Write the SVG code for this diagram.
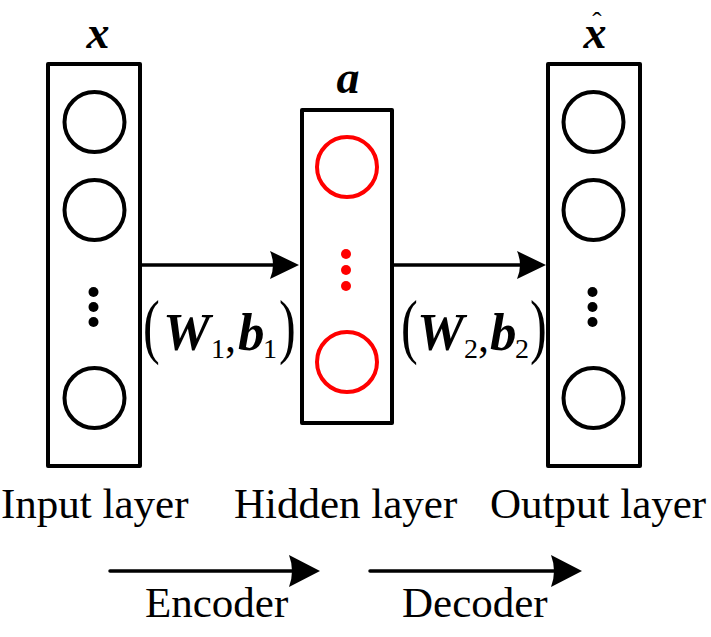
<svg xmlns="http://www.w3.org/2000/svg" width="711" height="637" viewBox="0 0 711 637">
<style>
.box{fill:#fff;stroke:#000;stroke-width:4;stroke-linejoin:round}
.nb{fill:none;stroke:#000;stroke-width:4}
.nr{fill:none;stroke:#f00;stroke-width:4}
.conn{stroke:#000;stroke-width:3.5;fill:none}
.lab{font-family:"Liberation Serif","Times New Roman",serif;font-size:43px;fill:#000}
.var{font-family:"Liberation Serif","Times New Roman",serif;font-weight:bold;font-style:italic;font-size:46px;fill:#000}
.mv{font-family:"Liberation Serif","Times New Roman",serif;font-weight:bold;font-style:italic;font-size:53px;fill:#000}
.sub{font-family:"Liberation Serif","Times New Roman",serif;font-size:28px;fill:#000}
.par{font-family:"Liberation Serif","Times New Roman",serif;font-size:72px;fill:#000}
.cm{font-family:"Liberation Serif","Times New Roman",serif;font-size:44px;fill:#000}
</style>
<defs>
<marker id="ah" viewBox="-30 -15 30 30" refX="-14" refY="0" markerWidth="30" markerHeight="30" markerUnits="userSpaceOnUse" orient="auto">
<path d="M0,0 L-29,-14 Q-23,0 -29,14 Z" fill="#000"/>
</marker>
<marker id="ah2" viewBox="-32 -17 32 34" refX="-16" refY="0" markerWidth="32" markerHeight="34" markerUnits="userSpaceOnUse" orient="auto">
<path d="M0,0 L-31,-16 Q-25,0 -31,16 Z" fill="#000"/>
</marker>
</defs>
<g id="connectors">
<line class="conn" x1="141" y1="265" x2="285" y2="265" marker-end="url(#ah)"/>
<line class="conn" x1="392" y1="265" x2="532" y2="265" marker-end="url(#ah)"/>
</g>
<g id="input-layer">
<rect class="box" x="48" y="64" width="92" height="402"/>
<circle class="nb" cx="94.5" cy="122" r="30"/>
<circle class="nb" cx="94.5" cy="210" r="30"/>
<circle cx="93.5" cy="292" r="5"/>
<circle cx="93.5" cy="307" r="5"/>
<circle cx="93.5" cy="322" r="5"/>
<circle class="nb" cx="94.5" cy="398" r="30"/>
<text class="var" x="98" y="48" text-anchor="middle">x</text>
<text class="lab" x="1" y="518">Input layer</text>
</g>
<g id="hidden-layer">
<rect class="box" x="302" y="110" width="90" height="313"/>
<circle class="nr" cx="347" cy="167" r="30"/>
<circle cx="346" cy="254" r="5" fill="#f00"/>
<circle cx="346" cy="270" r="5" fill="#f00"/>
<circle cx="346" cy="286" r="5" fill="#f00"/>
<circle class="nr" cx="347" cy="362" r="30"/>
<text class="var" x="348" y="93" text-anchor="middle">a</text>
<text class="lab" x="234" y="518">Hidden layer</text>
</g>
<g id="output-layer">
<rect class="box" x="548" y="64" width="92" height="402"/>
<circle class="nb" cx="593.5" cy="122" r="30"/>
<circle class="nb" cx="593.5" cy="210" r="30"/>
<circle cx="592.5" cy="292" r="5"/>
<circle cx="592.5" cy="307" r="5"/>
<circle cx="592.5" cy="322" r="5"/>
<circle class="nb" cx="593.5" cy="398" r="30"/>
<text class="var" x="595" y="48" text-anchor="middle">x</text>
<text class="sub" x="597" y="31" text-anchor="middle">ˆ</text>
<text class="lab" x="490" y="518">Output layer</text>
</g>
<g id="param-1">
<text class="par" transform="translate(143,350) scale(0.7,1)">(</text>
<text class="mv" x="163" y="350">W</text>
<text class="sub" x="211" y="358">1</text>
<text class="cm" x="225" y="352">,</text>
<text class="mv" x="238" y="350">b</text>
<text class="sub" x="263" y="358">1</text>
<text class="par" transform="translate(279,350) scale(0.7,1)">)</text>
</g>
<g id="param-2">
<text class="par" transform="translate(401,350) scale(0.7,1)">(</text>
<text class="mv" x="417" y="350">W</text>
<text class="sub" x="464" y="358">2</text>
<text class="cm" x="478" y="352">,</text>
<text class="mv" x="490" y="350">b</text>
<text class="sub" x="515" y="358">2</text>
<text class="par" transform="translate(530,350) scale(0.7,1)">)</text>
</g>
<g id="encoder">
<line class="conn" x1="110" y1="571" x2="304" y2="571" stroke-linecap="round" marker-end="url(#ah2)"/>
<text class="lab" x="145" y="617">Encoder</text>
</g>
<g id="decoder">
<line class="conn" x1="370" y1="571" x2="566" y2="571" stroke-linecap="round" marker-end="url(#ah2)"/>
<text class="lab" x="402" y="617">Decoder</text>
</g>
</svg>
